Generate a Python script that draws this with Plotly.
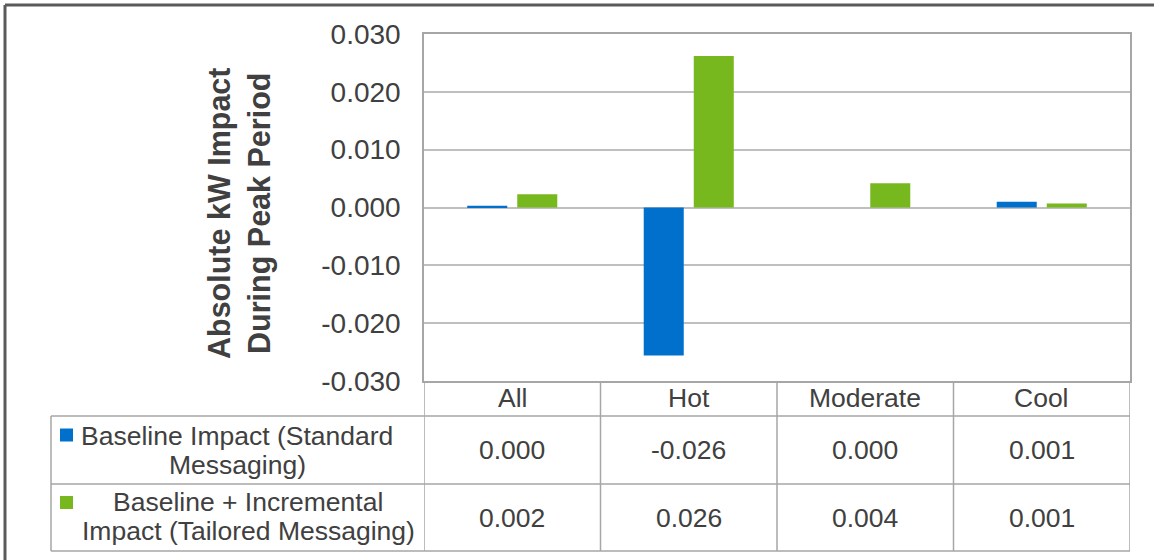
import plotly.graph_objects as go

# ---------------- data ----------------
categories = ["All", "Hot", "Moderate", "Cool"]
baseline_values = [0.0003, -0.0256, 0.0, 0.0010]
tailored_values = [0.0023, 0.0262, 0.0042, 0.0007]
series_label_lines = [
    ["Baseline Impact (Standard", "Messaging)"],
    ["Baseline + Incremental", "Impact (Tailored Messaging)"],
]
series_colors = ["#0070CC", "#77B81F"]
y_ticks = [-0.03, -0.02, -0.01, 0.0, 0.01, 0.02, 0.03]
y_title_lines = ["Absolute kW Impact", "During Peak Period"]

# ---------------- geometry helpers (pixels -> paper) ----------------
W, H = 1154, 560
L, R, T, B = 424, 1130, 34, 381


def xp(px):
    return (px - L) / (R - L)


def yp(py):
    return (B - py) / (B - T)


FONT = "Liberation Sans, Arial, sans-serif"
TXT = "#404040"
GRID = "#BFBFBF"
TBL = "#A6A6A6"
TS = 26.5

series_values = [baseline_values, tailored_values]

fig = go.Figure()
for lines, vals, col in zip(series_label_lines, series_values, series_colors):
    fig.add_trace(go.Bar(
        x=categories, y=vals, name=" ".join(lines),
        marker=dict(color=col, line=dict(width=0)),
    ))

shapes = []
annotations = []

# outer frame (top and left)
shapes.append(dict(type="line", xref="paper", yref="paper",
                   x0=xp(5), x1=xp(W), y0=yp(5), y1=yp(5),
                   line=dict(color="#5A5A5A", width=3)))
shapes.append(dict(type="line", xref="paper", yref="paper",
                   x0=xp(5), x1=xp(5), y0=yp(5), y1=yp(H),
                   line=dict(color="#5A5A5A", width=3)))

# table rows
row_tops = [416, 484, 551]
for ry in row_tops:
    shapes.append(dict(type="line", xref="paper", yref="paper",
                       x0=xp(51), x1=xp(R), y0=yp(ry), y1=yp(ry),
                       line=dict(color=TBL, width=1.5)))
shapes.append(dict(type="line", xref="paper", yref="paper",
                   x0=xp(51), x1=xp(51), y0=yp(416), y1=yp(551),
                   line=dict(color=TBL, width=1.5)))
# column separators
for i in range(len(categories) + 1):
    shapes.append(dict(type="line", xref="x", yref="paper",
                       x0=i - 0.5, x1=i - 0.5, y0=yp(B), y1=yp(551),
                       line=dict(color=TBL, width=1.5)))

# category header
for c in categories:
    annotations.append(dict(x=c, y=yp(398), xref="x", yref="paper",
                            text=c, showarrow=False,
                            font=dict(family=FONT, size=TS, color=TXT),
                            xanchor="center", yanchor="middle"))

# values in table
row_centers = [450, 517.5]
for vals, rc in zip(series_values, row_centers):
    for c, v in zip(categories, vals):
        annotations.append(dict(x=c, y=yp(rc), xref="x", yref="paper",
                                text=f"{v:.3f}", showarrow=False,
                                font=dict(family=FONT, size=TS, color=TXT),
                                xanchor="center", yanchor="middle"))

# series labels + legend keys
label_line_y = [[436, 465], [502, 531]]
label_cx = [237, 248]
key_y = [435, 502.5]
for lines, ys, cx, ky, col in zip(series_label_lines, label_line_y, label_cx, key_y, series_colors):
    for t, yy in zip(lines, ys):
        annotations.append(dict(x=xp(cx), y=yp(yy), xref="paper", yref="paper",
                                text=t, showarrow=False,
                                font=dict(family=FONT, size=TS, color=TXT),
                                xanchor="center", yanchor="middle"))
    shapes.append(dict(type="rect", xref="paper", yref="paper",
                       x0=xp(60), x1=xp(73), y0=yp(ky - 6.5), y1=yp(ky + 6.5),
                       fillcolor=col, line=dict(width=0)))

# y-axis title
annotations.append(dict(x=xp(239), y=yp(214), xref="paper", yref="paper",
                        text="<br>".join(f"<b>{s}</b>" for s in y_title_lines),
                        textangle=-90, showarrow=False,
                        font=dict(family=FONT, size=30.5, color=TXT),
                        xanchor="center", yanchor="middle"))

fig.update_layout(
    width=W, height=H,
    margin=dict(l=L, r=W - R, t=T, b=H - B, pad=0),
    paper_bgcolor="white", plot_bgcolor="white",
    barmode="group", bargap=0.433, bargroupgap=0.2,
    showlegend=False,
    shapes=shapes, annotations=annotations,
    font=dict(family=FONT, color=TXT),
)
fig.update_xaxes(
    range=[-0.5, len(categories) - 0.5], showticklabels=False, ticks="",
    showgrid=False, zeroline=False,
    showline=True, mirror=True, linecolor=TBL, linewidth=1.5,
)
fig.update_yaxes(
    range=[y_ticks[0], y_ticks[-1]],
    tickvals=y_ticks, ticktext=[f"{v:.3f}" for v in y_ticks],
    tickfont=dict(family=FONT, size=28, color=TXT),
    ticks="", ticklabelstandoff=16,
    showgrid=True, gridcolor=GRID, gridwidth=1.5,
    zeroline=True, zerolinecolor=GRID, zerolinewidth=1.5,
    showline=True, mirror=True, linecolor=TBL, linewidth=1.5,
)

fig.write_html(
    "out.html",
    config={"displayModeBar": False},
    post_script="document.body.style.margin='0';document.body.style.overflow='hidden';",
)
